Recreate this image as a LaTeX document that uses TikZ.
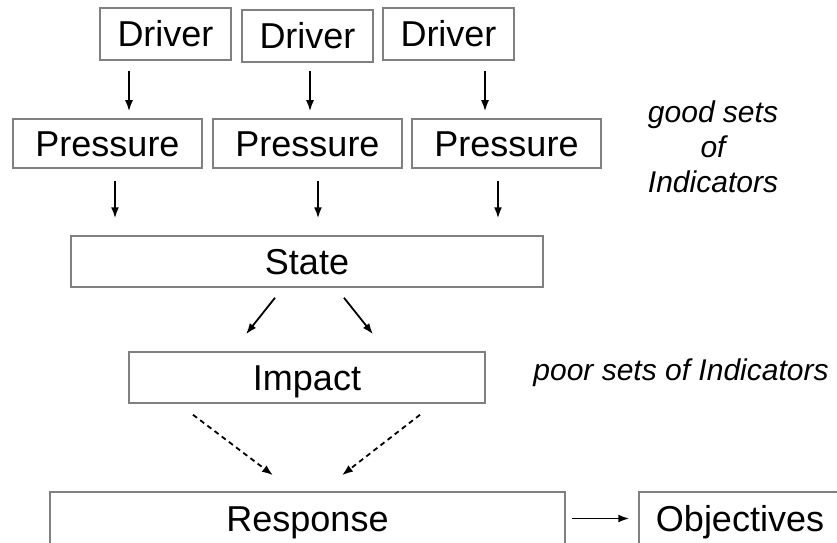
\documentclass[tikz,border=0pt]{standalone}
\usepackage{fontspec}
\setmainfont{Liberation Sans}
\usetikzlibrary{arrows.meta, positioning}

\begin{document}
\begin{tikzpicture}[x=1pt, y=1pt, font=\fontsize{36}{43}\selectfont]
        % Setup the styles for the boxes and arrows
        \tikzset{box style/.style={rectangle,
                                   draw=black!50,
                                   line width=1.5pt,
                                   inner sep=0pt,
                                   text height=26pt,
                                   text depth=0pt,
                                   minimum height=51pt},
                 link/.style={line width=1.8pt,
                              -{Latex[length=11pt,width=8pt]}},
                 note/.style={font=\fontsize{30}{35}\selectfont\itshape,
                              align=center}}
        \useasboundingbox (0,0) rectangle (837,542);

        % Draw the boxes
        \node[box style, minimum width=131pt, minimum height=52pt] at (165.5, 508) (driverA) {Driver};
        \node[box style, minimum width=131pt, minimum height=52pt] at (307.5, 506) (driverB) {Driver};
        \node[box style, minimum width=131pt, minimum height=52pt] at (448.5, 508) (driverC) {Driver};
        \node[box style, minimum width=189pt, minimum height=49pt] at (107.5, 398.5) (pressA) {Pressure};
        \node[box style, minimum width=189pt, minimum height=49pt] at (307.5, 398.5) (pressB) {Pressure};
        \node[box style, minimum width=189pt, minimum height=49pt] at (506.5, 398.5) (pressC) {Pressure};
        \node[box style, minimum width=472pt] at (307, 280.5) (state) {State};
        \node[box style, minimum width=356pt] at (307, 164.5) (impact) {Impact};
        \node[box style, minimum width=515pt, minimum height=53pt] at (307.5, 23.5) (response) {Response};
        \node[box style, minimum width=202pt, minimum height=53pt] at (740, 23.5) (objectives) {Objectives};

        % The remarks on the right
        \node[note] at (713, 395) (goodsets) {good sets\\of\\Indicators};
        \node[note] at (681, 169) (poorsets) {poor sets of Indicators};

        % Connect the boxes with arrows
        \draw[link] ([shift={(-36.5,-10)}]driverA.south) -- ([shift={(21.5,7)}]pressA.north);
        \draw[link] ([shift={(2.5,-8)}]driverB.south) -- ([shift={(2.5,7)}]pressB.north);
        \draw[link] ([shift={(36.5,-10)}]driverC.south) -- ([shift={(-21.5,7)}]pressC.north);
        \draw[link] ([shift={(7.5,-12)}]pressA.south) -- ([shift={(-192,17)}]state.north);
        \draw[link] ([shift={(10.5,-12)}]pressB.south) -- ([shift={(11,17)}]state.north);
        \draw[link] ([shift={(-8.5,-12)}]pressC.south) -- ([shift={(191,17)}]state.north);
        \draw[link] ([shift={(-32,-10)}]state.south) -- ([shift={(-61,17)}]impact.north);
        \draw[link] ([shift={(37,-10)}]state.south) -- ([shift={(66,17)}]impact.north);
        \draw[link, dash pattern=on 5pt off 4pt] ([shift={(-114,-11)}]impact.south) -- ([shift={(-34.5,16)}]response.north);
        \draw[link, dash pattern=on 5pt off 4pt] ([shift={(113,-11)}]impact.south) -- ([shift={(34.5,16)}]response.north);
        \draw[link, shorten <=6pt, shorten >=9pt] (response.east) -- (objectives.west);
\end{tikzpicture}
\end{document}
